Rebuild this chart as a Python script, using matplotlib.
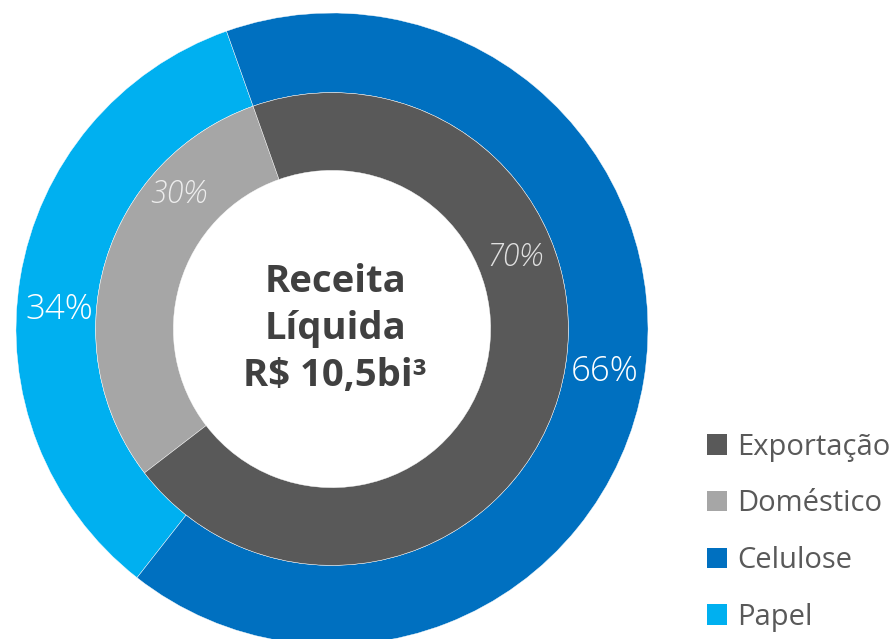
import numpy as np
import matplotlib
matplotlib.use("Agg")
import matplotlib.pyplot as plt
from matplotlib.patches import Patch

plt.rcParams['font.family'] = ['Open Sans', 'DejaVu Sans']

# dados
produtos = ["Papel", "Celulose"]
produtos_val = [34, 66]
mercados = ["Doméstico", "Exportação"]
mercados_val = [30, 70]

cor_produtos = ["#00B0F0", "#0070C0"]
cor_mercados = ["#A6A6A6", "#595959"]

legenda_nomes = ["Exportação", "Doméstico", "Celulose", "Papel"]
legenda_cores = ["#595959", "#A6A6A6", "#0070C0", "#00B0F0"]

titulo = "Receita\nLíquida\nR$ 10,5bi³"

fig = plt.figure(figsize=(8.9, 6.39), dpi=100)
ax = fig.add_axes([16/890, -6/639, 632/890, 632/639])

inicio = 109.5
ax.pie(produtos_val, colors=cor_produtos, radius=1.0, startangle=inicio,
       counterclock=True, wedgeprops=dict(width=0.252, edgecolor="white", linewidth=0.3))
ax.pie(mercados_val, colors=cor_mercados, radius=0.748, startangle=inicio,
       counterclock=True, wedgeprops=dict(width=0.246, edgecolor="white", linewidth=0.3))
ax.set_xlim(-1, 1)
ax.set_ylim(-1, 1)
ax.set_aspect("equal")
ax.axis("off")

# rotulos percentuais
ax.text(-0.864, 0.060, f"{produtos_val[0]}%", color="white", fontsize=25,
        fontweight="light", ha="center", va="center")
ax.text(0.864, -0.136, f"{produtos_val[1]}%", color="white", fontsize=25,
        fontweight="light", ha="center", va="center")
ax.text(-0.487, 0.427, f"{mercados_val[0]}%", color="#EDEDED", fontsize=22,
        fontweight="light", style="italic", ha="center", va="center")
ax.text(0.579, 0.225, f"{mercados_val[1]}%", color="#E0E0E0", fontsize=22,
        fontweight="light", style="italic", ha="center", va="center")

ax.text(0.01, 0.0, titulo, color="#404040", fontsize=27.5, fontweight="bold",
        ha="center", va="center", linespacing=1.3)

handles = [Patch(facecolor=c, edgecolor="none") for c in legenda_cores]
fig.legend(handles, legenda_nomes, loc="center left", bbox_to_anchor=(707/890, 0.167),
           frameon=False, fontsize=21, handlelength=0.7, handleheight=0.7,
           handletextpad=0.35, labelspacing=0.95, borderpad=0, borderaxespad=0,
           labelcolor="#595959")

fig.savefig("out.png", dpi=100)
